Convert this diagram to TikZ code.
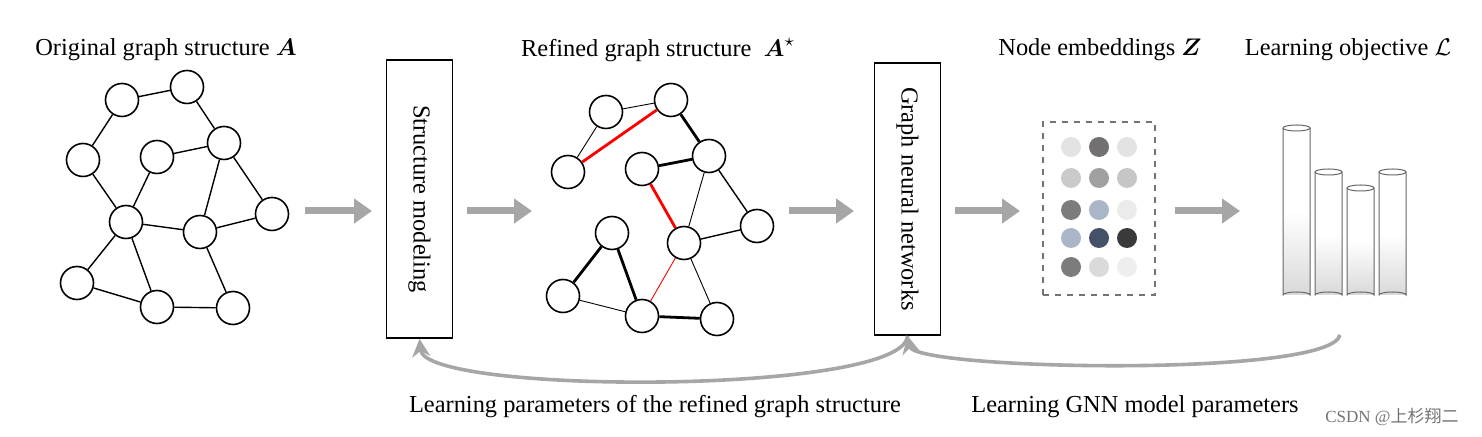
\documentclass[tikz,border=0pt]{standalone}
\usepackage{fontspec}
\setmainfont{Liberation Serif}
\newfontfamily\cjk{Noto Sans CJK SC}
\usepackage{amsmath,amssymb}
\usetikzlibrary{arrows.meta}
\begin{document}
\begin{tikzpicture}[x=0.5pt,y=-0.5pt,
  gn/.style={circle,draw,line width=0.8pt,minimum size=16.5pt,inner sep=0pt,fill=white},
  e/.style={line width=0.7pt},
  thin/.style={line width=0.45pt},
  thick/.style={line width=1.4pt},
  red/.style={draw=red},
  flow/.style={draw=black!35,line width=3.5pt,-{Triangle[length=9pt,width=12pt]}},
  back/.style={draw=black!35,line width=1.8pt,-{Stealth[length=9pt,width=9pt]}},
  box/.style={draw,line width=0.8pt,minimum width=33pt,inner sep=0pt},
  lab/.style={font=\fontsize{12.2}{14}\selectfont},
  dot/.style={circle,minimum size=10pt,inner sep=0pt}]
\useasboundingbox (0,0) rectangle (1482,437);
% titles
\node[lab] (t1) at (166,50) {Original graph structure $\boldsymbol{A}$};
\node[lab] (t2) at (658,50) {Refined graph structure \ $\boldsymbol{A}^{\star}$};
\node[lab] (t3) at (1100,50) {Node embeddings $\boldsymbol{Z}$};
\node[lab] (t4) at (1348,50) {Learning objective $\mathcal{L}$};
% graph 1
\foreach \n/\x/\y in {1/122/100,2/187/87,3/83/160,4/157/157,5/224/143,6/126/222,7/200/232,8/272/214,9/77/283,10/157/307,11/233/308}
  \node[gn] (a\n) at (\x,\y) {};
\foreach \a/\b in {1/2,1/3,2/5,4/5,3/6,4/6,5/7,5/8,6/7,7/8,6/9,6/10,9/10,10/11,7/11}
  \draw[e] (a\a) -- (a\b);
% graph 2
\foreach \n/\x/\y in {1/606/112,2/671/100,3/568/172,4/642/169,5/709/156,6/757/226,7/684/243,8/612/233,9/563/296,10/642/316,11/717/319}
  \node[gn] (b\n) at (\x,\y) {};
\draw[thin] (b1)--(b2); \draw[thin] (b1)--(b3);
\draw[thick,red] (b3)--(b2);
\draw[thick] (b2)--(b5); \draw[thick] (b4)--(b5);
\draw[thick,red] (b4)--(b7);
\draw[thin] (b5)--(b7); \draw[e] (b5)--(b6); \draw[e] (b7)--(b6);
\draw[thin] (b7)--(b11); \draw[thin,red] (b7)--(b10);
\draw[thick] (b8)--(b9); \draw[thick] (b8)--(b10);
\draw[thin] (b9)--(b10); \draw[thick] (b10)--(b11);
% boxes
\node[box,minimum height=139pt] (s1) at (419.5,199) {};
\node[lab,rotate=-90] (s1t) at (419.5,199) {Structure modeling};
\node[box,minimum height=136pt] (s2) at (907.5,199) {};
\node[lab,rotate=-90] (s2t) at (907.5,199) {Graph neural networks};
% flow arrows
\coordinate (f1a) at (305,211); \coordinate (f1b) at (372,211);
\coordinate (f2a) at (467,211); \coordinate (f2b) at (532,211);
\coordinate (f3a) at (789,211); \coordinate (f3b) at (854,211);
\coordinate (f4a) at (955,211); \coordinate (f4b) at (1020,211);
\coordinate (f5a) at (1175,211); \coordinate (f5b) at (1240,211);
\foreach \i in {1,...,5} \draw[flow] (f\i a) -- (f\i b);
% embeddings
\node[draw=black!55,dashed,line width=0.6pt,minimum width=56pt,minimum height=86.5pt,inner sep=0pt] (emb) at (1099,208.5) {};
\definecolor{c1}{HTML}{E3E3E3}\definecolor{c2}{HTML}{727070}\definecolor{c3}{HTML}{E3E3E3}
\definecolor{c4}{HTML}{CBCACB}\definecolor{c5}{HTML}{A0A0A0}\definecolor{c6}{HTML}{C6C6C6}
\definecolor{c7}{HTML}{7C7C7C}\definecolor{c8}{HTML}{AAB6C8}\definecolor{c9}{HTML}{EBEBEB}
\definecolor{c10}{HTML}{AAB6C8}\definecolor{c11}{HTML}{435169}\definecolor{c12}{HTML}{3A3A3A}
\definecolor{c13}{HTML}{7C7C7C}\definecolor{c14}{HTML}{DADADA}\definecolor{c15}{HTML}{EEEEEE}
\foreach \r/\y in {0/147,1/178,2/210,3/238,4/267}
  \foreach \c/\x in {1/1071,2/1099,3/1127}{
    \pgfmathtruncatemacro{\k}{\r*3+\c}
    \node[dot,fill=c\k] (d\k) at (\x,\y) {};}
% cylinders
\foreach \i/\x/\t in {1/1296.5/128,2/1328.5/172,3/1360.5/188,4/1392.5/172}{
  \shade[top color=white,bottom color=black!15,middle color=white] (\x-13.5,\t) rectangle (\x+13.5,295);
  \draw[black!60,line width=0.5pt] (\x-13.5,\t) -- (\x-13.5,295) arc[start angle=180,end angle=360,x radius=13.5,y radius=3] -- (\x+13.5,\t);
  \draw[black!60,line width=0.5pt,fill=white] (\x,\t) ellipse[x radius=13.5,y radius=3];
  \coordinate (cy\i) at (\x,295);}
% feedback arrows
\coordinate (bk1) at (1340,335);
\draw[back] (s2.south) .. controls (905,395) and (425,395) .. (s1.south);
\draw[back] (bk1) .. controls (1330,378) and (915,370) .. (s2.south);
\node[lab] (l1) at (655,407) {Learning parameters of the refined graph structure};
\node[lab] (l2) at (1135,407) {Learning GNN model parameters};
\node[text=black!55,font=\fontsize{8.5}{10}\selectfont] (wm) at (1392,417) {CSDN @{\cjk 上杉翔二}};
\end{tikzpicture}
\end{document}
